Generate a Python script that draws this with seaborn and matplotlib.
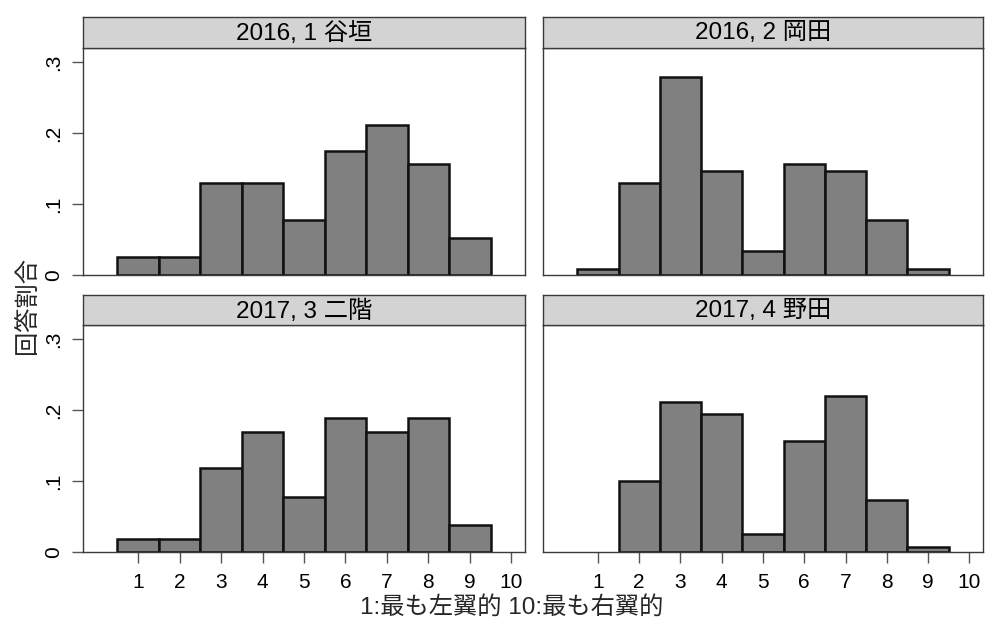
import matplotlib
matplotlib.use("Agg")
import matplotlib.pyplot as plt
import numpy as np
import pandas as pd
import seaborn as sns

# Response shares on the 1-10 left/right self-placement scale
scale = [1, 2, 3, 4, 5, 6, 7, 8, 9, 10]
panel_titles = ["2016, 1 谷垣", "2016, 2 岡田", "2017, 3 二階", "2017, 4 野田"]
share_tanigaki = [0.025, 0.025, 0.130, 0.130, 0.078, 0.175, 0.211, 0.157, 0.052, 0.0]
share_okada = [0.008, 0.130, 0.279, 0.147, 0.034, 0.157, 0.147, 0.078, 0.008, 0.0]
share_nikai = [0.018, 0.018, 0.118, 0.169, 0.078, 0.189, 0.169, 0.189, 0.038, 0.0]
share_noda = [0.0, 0.100, 0.211, 0.194, 0.025, 0.156, 0.220, 0.073, 0.007, 0.0]
y_ticks = [0, 0.1, 0.2, 0.3]
y_tick_labels = ["0", ".1", ".2", ".3"]
x_label = "1:最も左翼的 10:最も右翼的"
y_label = "回答割合"

series = [share_tanigaki, share_okada, share_nikai, share_noda]
rows = []
for title, shares in zip(panel_titles, series):
    for s, v in zip(scale, shares):
        if v > 0:
            rows.append({"panel": title, "score": s, "share": v})
df = pd.DataFrame(rows)

sns.set_style("white")
plt.rcParams["font.family"] = ["Liberation Sans", "Noto Sans CJK JP"]

W, H = 985, 626
fig = plt.figure(figsize=(W / 100, H / 100), dpi=100)

def fx(px):
    return px / W

def fy(px):
    return 1 - px / H

# panel geometry in pixels: (left, right, strip_top, axes_top, axes_bottom)
geom = [
    (83, 525, 17, 48, 275),
    (543, 983, 17, 48, 275),
    (83, 525, 295, 325, 552),
    (543, 983, 295, 325, 552),
]

edge = "#3a3a3a"
for i, (title, g) in enumerate(zip(panel_titles, geom)):
    left, right, s_top, a_top, a_bot = g
    ax = fig.add_axes([fx(left), fy(a_bot), fx(right - left), (a_bot - a_top) / H])
    sub = df[df["panel"] == title]
    sns.histplot(data=sub, x="score", weights="share", discrete=True, ax=ax,
                 color="#808080", edgecolor="#111111", linewidth=1.8, alpha=1.0)
    ax.set_xlim(-0.33, 10.33)
    ax.set_ylim(0, 0.32)
    ax.set_xlabel("")
    ax.set_ylabel("")
    for sp in ax.spines.values():
        sp.set_color(edge)
        sp.set_linewidth(1.0)
    ax.set_facecolor("white")
    bottom_row = i >= 2
    left_col = i % 2 == 0
    ax.set_xticks(scale)
    if bottom_row:
        ax.set_xticklabels([str(v) for v in scale])
        ax.tick_params(axis="x", bottom=True, length=8, width=1, color="#555555",
                       pad=7, labelsize=15, labelcolor="black")
    else:
        ax.tick_params(axis="x", bottom=False, labelbottom=False)
    ax.set_yticks(y_ticks)
    if left_col:
        ax.set_yticklabels(y_tick_labels, rotation=90, va="center")
        ax.tick_params(axis="y", left=True, length=8, width=1, color="#555555",
                       pad=6, labelsize=15, labelcolor="black")
    else:
        ax.tick_params(axis="y", left=False, labelleft=False)

    sax = fig.add_axes([fx(left), fy(a_top), fx(right - left), (a_top - s_top) / H])
    sax.set_facecolor("#d3d3d3")
    sax.set_xticks([])
    sax.set_yticks([])
    for sp in sax.spines.values():
        sp.set_color(edge)
        sp.set_linewidth(1.0)
    sax.text(0.5, 0.47, title, ha="center", va="center", fontsize=17.5, color="black",
             transform=sax.transAxes)

fig.text(fx(512), fy(607), x_label, ha="center", va="center", fontsize=17.5)
fig.text(fx(27), fy(305), y_label, ha="center", va="center", rotation=90, fontsize=17.5)

fig.savefig("out.png", dpi=100, facecolor="white")
